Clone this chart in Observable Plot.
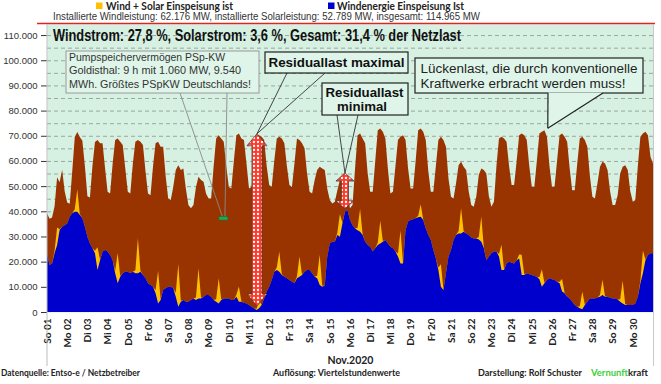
<!DOCTYPE html>
<html><head><meta charset="utf-8">
<script src="https://cdn.jsdelivr.net/npm/d3@7"></script>
<script src="https://cdn.jsdelivr.net/npm/@observablehq/plot@0.6"></script>
<style>
body{margin:0;background:#fff;}
#wrap{position:relative;width:661px;height:384px;overflow:hidden;}
#wrap > svg{position:absolute;left:0;}
</style></head><body><div id="wrap"></div>
<script>
// ---- categories / tick labels ----
const dayLabels = ["So 01","Mo 02","Di 03","Mi 04","Do 05","Fr 06","Sa 07","So 08","Mo 09","Di 10",
  "Mi 11","Do 12","Fr 13","Sa 14","So 15","Mo 16","Di 17","Mi 18","Do 19","Fr 20",
  "Sa 21","So 22","Mo 23","Di 24","Mi 25","Do 26","Fr 27","Sa 28","So 29","Mo 30"];
const yTicks = [0,10000,20000,30000,40000,50000,60000,70000,80000,90000,100000,110000];
const gridTicks = [5000,10000,15000,20000,25000,30000,35000,40000,45000,50000,55000,60000,65000,70000,75000,80000,85000,90000,95000,100000,105000,110000];

// ---- series (thousand MW), 3-hourly samples 0,3,...,21 h per day, plus end value ----
const loadGW = [
 39.2,37.0,37.5,42.0,53.5,51.5,56.5,48.0,
 43.5,43.0,56.0,69.5,71.5,69.5,68.0,58.0,
 46.0,45.5,58.0,67.5,68.3,67.0,67.0,57.0,
 47.8,47.1,59.0,68.3,68.9,67.6,66.3,57.0,
 47.8,47.1,59.0,67.6,68.3,67.6,66.3,56.0,
 47.1,46.4,58.0,67.0,67.6,65.6,65.6,54.0,
 45.1,44.5,49.7,56.4,58.3,56.4,57.0,49.0,
 42.5,41.2,42.5,49.7,53.7,52.4,51.7,47.0,
 45.1,45.1,58.0,68.9,70.2,68.9,67.6,58.0,
 49.7,49.1,60.0,70.2,70.9,68.9,68.3,59.0,
 49.1,49.7,60.0,70.4,70.2,69.6,68.3,58.0,
 50.4,49.7,60.0,68.9,69.6,68.9,67.0,58.0,
 50.4,49.7,59.0,68.9,68.3,67.0,65.0,55.0,
 47.8,47.1,52.4,56.4,57.7,57.0,56.4,49.0,
 44.5,43.1,43.8,48.4,52.4,52.4,54.5,46.5,
 41.2,42.5,57.0,70.2,70.9,68.9,67.0,55.0,
 47.8,47.8,60.0,72.2,72.9,71.6,68.9,57.0,
 47.1,47.8,58.0,68.3,69.6,70.2,68.3,57.0,
 49.1,49.1,60.0,72.2,72.9,71.6,68.3,56.0,
 47.8,47.8,58.0,68.3,69.6,68.3,65.6,53.0,
 45.8,45.1,51.1,58.3,59.7,57.7,56.4,48.0,
 42.5,41.8,45.8,54.4,57.0,56.4,55.0,46.0,
 41.8,43.8,58.0,68.9,69.6,68.9,67.6,58.0,
 50.4,50.4,60.0,70.2,70.9,70.2,68.3,58.0,
 49.7,49.7,60.0,70.9,71.6,72.2,69.6,58.0,
 49.7,49.7,60.0,70.2,70.9,69.6,67.6,57.0,
 48.4,48.4,59.0,68.9,69.6,68.3,65.6,54.0,
 45.8,45.1,51.1,57.7,59.7,59.0,56.4,48.0,
 42.5,42.5,46.4,55.0,57.7,58.3,56.4,48.0,
 43.8,44.5,58.0,69.6,70.9,71.6,70.2,61.7,
 59.0];
const windGW = [
 23.3,18.7,19.3,23.3,26.6,32.6,33.9,34.5,
 35.2,37.8,39.2,39.8,39.8,38.5,37.2,33.9,
 29.9,27.2,25.3,23.3,16.7,20.6,24.0,24.6,
 24.0,22.6,20.6,15.4,11.4,14.0,15.4,16.0,
 16.0,15.4,16.0,15.4,15.4,16.0,14.7,13.4,
 11.4,10.7,10.0,7.4,3.4,4.8,8.7,9.4,
 10.0,10.0,9.4,6.1,2.1,4.1,4.8,4.1,
 4.1,4.8,5.4,4.8,5.4,5.4,6.1,6.8,
 6.8,6.1,4.8,4.1,3.4,4.8,5.4,5.4,
 5.4,4.8,4.8,6.1,4.1,4.1,3.7,3.4,
 2.8,2.1,1.5,0.8,1.5,2.8,5.4,8.1,
 10.0,12.7,16.0,16.7,16.0,14.7,14.0,13.4,
 12.7,12.0,11.4,13.4,14.0,14.7,16.0,16.7,
 16.7,15.4,14.0,13.4,10.7,10.0,10.5,22.0,
 27.2,27.9,27.9,30.6,29.9,35.2,39.8,40.5,
 36.5,34.5,33.2,32.5,31.9,30.6,27.9,26.6,
 25.9,24.0,25.3,26.6,27.2,27.9,28.6,27.2,
 25.9,25.3,24.0,22.0,19.3,19.3,32.5,35.9,
 36.5,36.8,37.2,37.6,37.8,36.5,33.2,30.6,
 28.6,24.6,21.3,16.7,10.0,8.7,15.4,22.0,
 24.6,28.6,30.6,31.2,31.2,31.9,31.2,30.6,
 29.6,29.2,29.2,28.8,27.9,25.3,20.6,22.0,
 23.3,24.0,24.0,22.0,16.7,16.7,19.3,20.0,
 19.6,19.3,20.6,21.3,14.7,14.7,15.4,15.0,
 14.7,14.3,14.0,13.0,10.0,11.4,12.7,13.4,
 13.0,12.7,12.0,11.4,8.1,7.4,6.1,5.4,
 4.1,2.8,2.1,1.5,1.1,2.8,4.1,5.4,
 5.4,5.4,5.8,6.1,6.8,6.1,6.1,5.7,
 5.4,5.4,5.0,4.1,3.4,2.8,2.8,2.8,
 2.8,3.4,6.1,11.4,15.4,20.6,22.6,23.3,
 23.3];
// solar per day at 9 h, 12 h, 15 h (other samples 0)
const solarGW = [
 1.0,7,0.3, 1.0,9,0.3, 1.0,9,0.3, 1.0,12,0.3, 1.2,14,0.4,
 1.2,13,0.3, 1.5,17,0.4, 1.0,12,0.3, 1.0,10,0.3, 0.8,6,0.2,
 0.5,3,0.1, 1.0,8,0.3, 0.8,8,0.2, 1.0,12,0.4, 1.0,9,0.3,
 1.0,9,0.3, 1.0,9,0.3, 1.2,13,0.4, 0.6,5,0.2, 1.0,9,0.3,
 1.0,10,0.3, 1.0,10,0.3, 1.0,10,0.3, 1.5,8,0.3, 0.8,7,0.2,
 0.6,5,0.2, 0.8,7,0.2, 0.7,6,0.2, 1.0,9,0.3, 1.0,9,0.3];

// annotation anchors (hours since 1 Nov 00:00, MW)
const resMax = {h: 249.5, top: 70800, bottom: 2400};
const resMin = {h: 354, top: 55200, bottom: 41000};
const pspMarker = {h: 209, v: 37300};
const gapTarget = {h: 595, v: 73000};

// ---- table for the library ----
const rows = loadGW.map((l, i) => {
  const day = Math.floor(i / 8), k = i % 8;
  const s = (k >= 3 && k <= 5 && day < 30) ? solarGW[day * 3 + (k - 3)] : 0;
  return {h: i * 3, load: l * 1000, wind: windGW[i] * 1000, ws: (windGW[i] + s) * 1000};
});

const fmt = d => d3.format(",")(d).replace(/,/g, ".");
const ARIAL = "Liberation Sans, Arial, sans-serif";
const CAL = "Lato, Open Sans, sans-serif";

const plot = Plot.plot({
  width: 661, height: 344,
  marginTop: 2, marginBottom: 54, marginLeft: 47, marginRight: 8,
  x: {domain: [0, 720]},
  y: {domain: [0, 114400]},
  style: {fontFamily: ARIAL, background: "transparent", overflow: "visible"},
  marks: [
    Plot.frame({fill: "#d6f0e2", stroke: null}),
    Plot.gridY(gridTicks, {stroke: "#9aa79f", strokeOpacity: 1, strokeDasharray: "4,3"}),
    Plot.areaY(rows, {x: "h", y: "load", fill: "#993300"}),
    Plot.areaY(rows, {x: "h", y: "ws", fill: "#ffc000"}),
    Plot.areaY(rows, {x: "h", y: "wind", fill: "#0000cc"}),
    Plot.axisY(yTicks, {tickFormat: fmt, fontSize: 9.5, tickSize: 6, tickPadding: 4, color: "#333", label: null}),
    Plot.axisX(d3.range(0, 720, 24), {tickFormat: d => dayLabels[d / 24], tickRotate: -90, tickSize: 0, tickPadding: 6,
      fontSize: 10, fontWeight: "bold", fontFamily: CAL, color: "#222", label: null}),
    Plot.text(["Nov.2020"], {frameAnchor: "bottom", dy: 51, fontWeight: "bold", fontSize: 10.5, fontFamily: CAL, fill: "#222"})
  ]
});
plot.style.top = "22px";
const wrap = document.getElementById("wrap");
wrap.appendChild(plot);

// ---- overlay: header, annotations, footer ----
const OFF = 22;
const X = h => plot.scale("x").apply(h);
const Y = v => plot.scale("y").apply(v) + OFF;
const ov = d3.create("svg").attr("width", 661).attr("height", 384).style("top", "0px");
const defs = ov.append("defs");
const pat = defs.append("pattern").attr("id", "dots").attr("width", 4).attr("height", 4).attr("patternUnits", "userSpaceOnUse");
pat.append("rect").attr("width", 4).attr("height", 4).attr("fill", "#ff3b2b");
pat.append("circle").attr("cx", 2).attr("cy", 2).attr("r", 1.15).attr("fill", "#fff");

function txt(s, x, y, size, weight, len, fill = "#222", family = ARIAL) {
  const t = ov.append("text").attr("x", x).attr("y", y).attr("font-size", size).attr("font-weight", weight)
    .attr("font-family", family).attr("fill", fill).text(s);
  if (len) t.attr("textLength", len).attr("lengthAdjust", "spacingAndGlyphs");
  return t;
}
function line(x1, y1, x2, y2, stroke, w = 1) {
  ov.append("line").attr("x1", x1).attr("y1", y1).attr("x2", x2).attr("y2", y2).attr("stroke", stroke).attr("stroke-width", w);
}
function box(x, y, w, h, stroke, sw) {
  ov.append("rect").attr("x", x).attr("y", y).attr("width", w).attr("height", h)
    .attr("fill", "#dff5e9").attr("stroke", stroke).attr("stroke-width", sw);
}

// header
ov.append("rect").attr("x", 96).attr("y", 2.5).attr("width", 6.5).attr("height", 6.5).attr("fill", "#ffc000");
txt("Wind + Solar Einspeisung ist", 106, 9.5, 10.5, "bold", 127, "#222", CAL);
ov.append("rect").attr("x", 328).attr("y", 2.5).attr("width", 6.5).attr("height", 6.5).attr("fill", "#0000cc");
txt("Windenergie Einspeisung Ist", 337, 9.5, 10.5, "bold", 127, "#222", CAL);
txt("Installierte Windleistung: 62.176 MW, installierte Solarleistung: 52.789 MW, insgesamt: 114.965 MW", 53, 20.3, 10, "normal", 427, "#333");

// frame lines
line(37, 23.5, 655, 23.5, "#e32222", 1.6);
line(47, 24, 47, 366, "#bdbdbd", 1);
line(653.5, 24, 653.5, 366, "#c8c8c8", 1);

// title inside plot
txt("Windstrom: 27,8 %, Solarstrom: 3,6 %, Gesamt: 31,4 % der Netzlast", 53, 41, 16, "bold", 408, "#111");

// box 1 (pump storage)
const mx = X(pspMarker.h), my = Y(pspMarker.v);
line(180, 93, mx, my, "#8a8a8a", 0.9);
line(227, 93, mx + 2, my, "#8a8a8a", 0.9);
box(66, 51, 193, 42, "#9a9a9a", 1);
txt("Pumpspeichervermögen PSp-KW", 69, 60.5, 11, "normal", 156, "#333");
txt("Goldisthal: 9 h mit 1.060 MW, 9.540", 69, 74, 11, "normal", 172, "#333");
txt("MWh. Größtes PSpKW Deutschlands!", 69, 87.5, 11, "normal", 182, "#333");
ov.append("rect").attr("x", mx - 4).attr("y", my - 1.5).attr("width", 9).attr("height", 3.5)
  .attr("fill", "#1faa4a").attr("stroke", "#226633").attr("stroke-width", 0.6);

// double arrows
function dArrow(a, hw, hh, sw) {
  const x = X(a.h), yt = Y(a.top), yb = Y(a.bottom);
  const p = `M${x},${yt}L${x + hw},${yt + hh}L${x + sw},${yt + hh}L${x + sw},${yb - hh}L${x + hw},${yb - hh}L${x},${yb}` +
    `L${x - hw},${yb - hh}L${x - sw},${yb - hh}L${x - sw},${yt + hh}L${x - hw},${yt + hh}Z`;
  ov.append("path").attr("d", p).attr("fill", "url(#dots)").attr("stroke", "#5a3a3a").attr("stroke-width", 0.8);
  return {x, yt};
}
const aMax = dArrow(resMax, 10, 12, 5);
const aMin = dArrow(resMin, 9, 8, 3.5);

// box 2
line(287, 73, aMax.x, aMax.yt, "#333", 0.9);
line(325, 73, aMax.x, aMax.yt, "#333", 0.9);
box(265, 52, 143, 21, "#222", 1.2);
txt("Residuallast maximal", 268.5, 66.5, 12.5, "bold", 136, "#111");

// box 3
line(337, 115, aMin.x, aMin.yt, "#333", 0.9);
line(358, 115, aMin.x, aMin.yt, "#333", 0.9);
box(322, 83, 86, 32, "#222", 1.2);
txt("Residuallast", 325.5, 96.5, 12.5, "bold", 78, "#111");
txt("minimal", 337, 110.5, 12.5, "bold", 50, "#111");

// box 4 (speech bubble)
const gx = X(gapTarget.h), gy = Y(gapTarget.v);
box(415, 58, 228, 35, "#222", 1.2);
ov.append("path").attr("d", `M548,92.4L${gx},${gy}L603,92.4Z`).attr("fill", "#dff5e9").attr("stroke", "none");
line(548, 93, gx, gy, "#222", 1.2);
line(603, 93, gx, gy, "#222", 1.2);
txt("Lückenlast, die durch konventionelle", 420.5, 72.5, 12, "normal", 217, "#222");
txt("Kraftwerke erbracht werden muss!", 420.5, 87.5, 12, "normal", 205, "#222");

// footer
txt("Datenquelle:  Entso-e  / Netzbetreiber", 1, 375.5, 9.5, "bold", 139, "#222", CAL);
txt("Auflösung: Viertelstundenwerte", 273, 375.5, 9.5, "bold", 127, "#222", CAL);
txt("Darstellung:  Rolf Schuster", 478, 375.5, 9.5, "bold", 104, "#222", CAL);
txt("Vernunft", 591, 375.5, 9.5, "bold", 37, "#3ccf3c", CAL);
txt("kraft", 628, 375.5, 9.5, "bold", 20, "#222", CAL);

wrap.appendChild(ov.node());
</script></body></html>
